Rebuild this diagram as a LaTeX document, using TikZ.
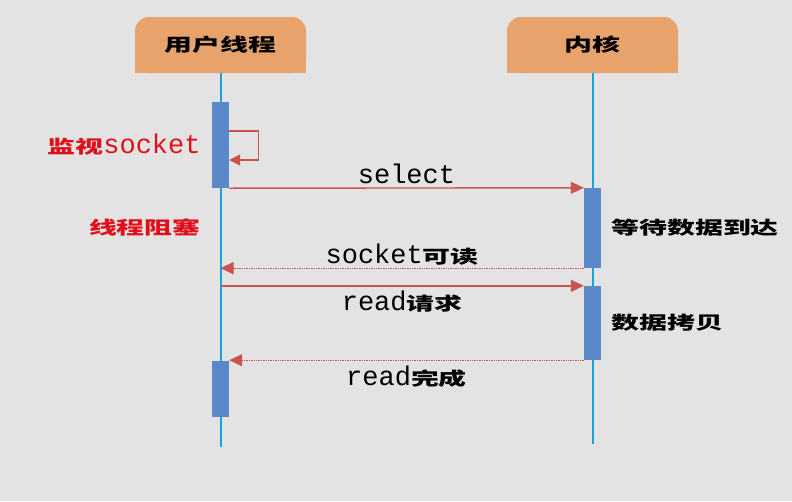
\documentclass[tikz,border=0pt]{standalone}
\usepackage{fontspec}
\usepackage{graphicx}
\setmonofont{Liberation Mono}
\newfontfamily\cjk{Noto Sans CJK SC}
\usetikzlibrary{arrows.meta, positioning, backgrounds}
\definecolor{bgcol}{HTML}{E3E3E3}
\definecolor{headfill}{HTML}{E8A36C}
\definecolor{lifeline}{HTML}{1AA3D6}
\definecolor{barfill}{HTML}{5B88C9}
\definecolor{msgred}{HTML}{C9534F}
\definecolor{labelred}{HTML}{E0101A}
\newcommand{\hz}[1]{\scalebox{1.55}[1]{\cjk\bfseries\fontsize{18}{20}\selectfont #1}}
\tikzset{
  head/.style={
    rectangle, rounded corners=14pt,
    minimum width=171, minimum height=56,
    fill=headfill, inner sep=0pt,
  },
  life/.style={draw=lifeline, line width=2pt},
  bar/.style={rectangle, fill=barfill, minimum width=17, inner sep=0pt},
  msg/.style={draw=msgred, line width=1.4pt, -{Triangle[length=13pt, width=12pt]}},
  reply/.style={msg, densely dotted},
  loopmsg/.style={draw=msgred, line width=1.4pt, -{Triangle[length=11pt, width=11pt]}},
  mono/.style={font=\ttfamily\fontsize{27}{30}\selectfont, inner sep=1pt},
  redlabel/.style={mono, text=labelred},
}

\begin{document}
\begin{tikzpicture}[x=1pt, y=-1pt]

  \useasboundingbox (0,0) rectangle (792,501);

  % heads
  \node[head] (user) at (220.5,45) {\hz{用户线程}};
  \node[head] (kernel) at (592.5,45) {\hz{内核}};
  \coordinate (userend) at (220.5,447);
  \coordinate (kernelend) at (592.5,444);

  \begin{scope}[on background layer]
    \fill[bgcol] (0,0) rectangle (792,501);
    \fill[headfill] (user.west) rectangle (user.south east);
    \fill[headfill] (kernel.west) rectangle (kernel.south east);
  \end{scope}

  % lifelines
  \draw[life] (user.south) -- (userend);
  \draw[life] (kernel.south) -- (kernelend);

  % activation bars
  \node[bar, minimum height=86] (act1) at (220.5,145) {};
  \node[bar, minimum height=56] (act2) at (220.5,389) {};
  \node[bar, minimum height=80] (kact1) at (592.5,228) {};
  \node[bar, minimum height=74] (kact2) at (592.5,323) {};

  % messages
  \draw[loopmsg] ([yshift=14]act1.east) -- ++(29,0) |- ([yshift=-15]act1.east);
  \draw[msg] (act1.south east) -- node[mono, above=3pt] (selecttxt) {select} (kact1.north west);
  \draw[reply] (kact1.south west) -- node[mono, above=1pt] (readable) {socket\hz{可读}} (kact1.south west -| user);
  \draw[msg] (kact2.north west -| user) -- node[mono, below=3pt] (readreq) {read\hz{请求}} (kact2.north west);
  \draw[reply] (kact2.south west) -- node[mono, below=4pt] (readdone) {read\hz{完成}} (kact2.south west -| act2.east);

  % side labels
  \node[redlabel, left=10pt of act1] (watch) {\hz{监视}socket};
  \coordinate (blockpt) at (act1.west |- kact1.west);
  \node[redlabel, left=10pt of blockpt] (block) {\hz{线程阻塞}};
  \node[mono, right=9pt of kact1] (wait) {\hz{等待数据到达}};
  \node[mono, right=9pt of kact2] (copy) {\hz{数据拷贝}};

\end{tikzpicture}
\end{document}
